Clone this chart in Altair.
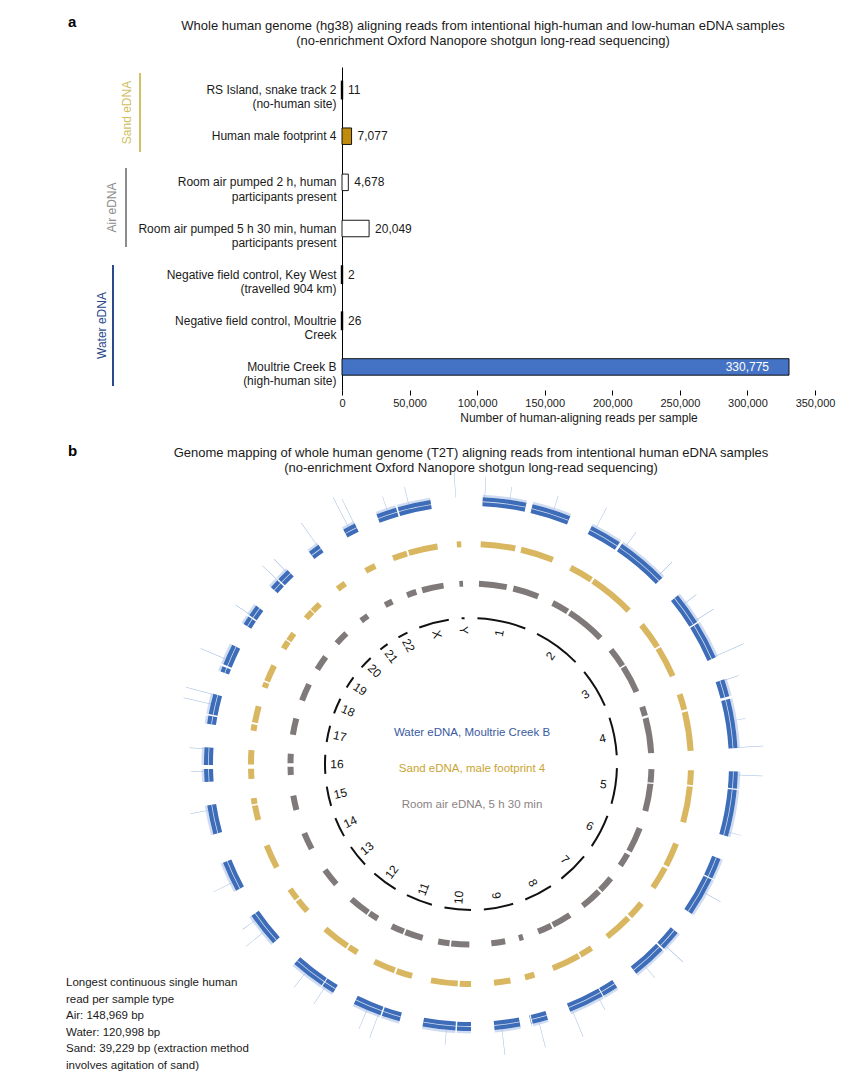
import math
import altair as alt
import pandas as pd

FONT = "Liberation Sans"
INK = "#1a1a1a"

# ---------------- Panel a data ----------------
SAMPLES = [
    "RS Island, snake track 2|(no-human site)",
    "Human male footprint 4",
    "Room air pumped 2 h, human|participants present",
    "Room air pumped 5 h 30 min, human|participants present",
    "Negative field control, Key West|(travelled 904 km)",
    "Negative field control, Moultrie|Creek",
    "Moultrie Creek B|(high-human site)",
]
READS = [11, 7077, 4678, 20049, 2, 26, 330775]
BAR_COLORS = ["#000000", "#bf8c0c", "#ffffff", "#ffffff", "#000000", "#000000", "#4472c4"]
X_TICKS = [0, 50000, 100000, 150000, 200000, 250000, 300000, 350000]
X_MAX = 350000
GROUP_NAMES = ["Sand eDNA", "Air eDNA", "Water eDNA"]
GROUP_COLORS = ["#d2c062", "#8c8c8c", "#2b4a8b"]
TITLE_A = ("Whole human genome (hg38) aligning reads from intentional high-human and low-human eDNA samples\n"
           "(no-enrichment Oxford Nanopore shotgun long-read sequencing)")
X_TITLE = "Number of human-aligning reads per sample"

# ---------------- Panel b data ----------------
TITLE_B = ("Genome mapping of whole human genome (T2T) aligning reads from intentional human eDNA samples\n"
           "(no-enrichment Oxford Nanopore shotgun long-read sequencing)")
CHROMS = [str(i) for i in range(1, 23)] + ["X", "Y"]
CHROM_MB = [248.4, 242.7, 201.1, 193.6, 182.0, 172.1, 160.6, 146.3, 150.6, 134.8, 135.1, 133.3,
            113.6, 101.2, 99.8, 96.3, 84.3, 80.5, 61.7, 66.2, 45.1, 51.3, 154.3, 15.0]
GAP_MB = 65

WATER_SEGS = {
    "1": [(0, 0.49), (0.56, 1)], "2": [(0, 0.37), (0.40, 1)], "3": [(0, 0.45), (0.47, 1)],
    "4": [(0, 0.25), (0.29, 1)], "5": [(0, 0.26), (0.28, 1)], "6": [(0, 0.34), (0.36, 1)],
    "7": [(0, 0.36), (0.39, 1)], "8": [(0, 0.30), (0.32, 1)], "9": [(0, 0.29), (0.31, 0.32), (0.52, 1)],
    "10": [(0, 0.29), (0.32, 1)], "11": [(0, 0.38), (0.41, 1)], "12": [(0, 0.26), (0.28, 1)],
    "13": [(0.15, 1)], "14": [(0.16, 1)], "15": [(0.18, 1)], "16": [(0, 0.37), (0.49, 1)],
    "17": [(0, 0.27), (0.32, 1)], "18": [(0, 0.19), (0.26, 1)], "19": [(0, 0.40), (0.47, 1)],
    "20": [(0, 0.40), (0.46, 1)], "21": [(0.28, 1)], "22": [(0.30, 1)], "X": [(0, 0.37), (0.40, 1)],
}
SAND_SEGS = {
    "1": [(0, 0.47), (0.55, 1)], "2": [(0, 0.33), (0.36, 1)], "3": [(0, 0.45), (0.48, 1)],
    "4": [(0, 0.28), (0.32, 1)], "5": [(0, 0.27), (0.30, 0.97)], "6": [(0.03, 0.50), (0.55, 1)],
    "7": [(0, 0.36), (0.41, 1)], "8": [(0, 0.30), (0.34, 1)], "9": [(0, 0.22), (0.55, 0.92)],
    "10": [(0, 0.28), (0.33, 1)], "11": [(0, 0.40), (0.45, 1)], "12": [(0, 0.25), (0.30, 1)],
    "13": [(0.18, 0.60), (0.65, 1)], "14": [(0.20, 1)], "15": [(0.25, 0.75), (0.80, 1)],
    "16": [(0, 0.35), (0.50, 1)], "17": [(0, 0.25), (0.33, 1)], "18": [(0, 0.22), (0.28, 1)],
    "19": [(0, 0.45), (0.52, 1)], "20": [(0, 0.45), (0.50, 1)], "21": [(0.30, 1)], "22": [(0.30, 1)],
    "X": [(0, 0.32), (0.36, 1)], "Y": [(0, 1)],
}
AIR_SEGS = {
    "1": [(0, 0.46), (0.57, 1)], "2": [(0, 0.29), (0.33, 1)], "3": [(0, 0.40), (0.43, 1)],
    "4": [(0, 0.20), (0.25, 1)], "5": [(0, 0.30), (0.33, 0.95)], "6": [(0, 0.60), (0.68, 1)],
    "7": [(0, 0.40), (0.45, 1)], "8": [(0, 0.55), (0.60, 1)], "9": [(0, 0.12), (0.50, 0.88)],
    "10": [(0.05, 0.60), (0.65, 1)], "11": [(0, 0.55), (0.60, 1)], "12": [(0, 0.30), (0.35, 1)],
    "13": [(0.20, 0.85)], "14": [(0.20, 0.90)], "15": [(0.25, 0.85)], "16": [(0.05, 0.40), (0.55, 0.95)],
    "17": [(0.10, 0.90)], "18": [(0.05, 0.95)], "19": [(0, 1)], "20": [(0.10, 0.95)],
    "21": [(0.25, 1)], "22": [(0.35, 1)], "X": [(0, 0.26), (0.42, 1)], "Y": [(0, 1)],
}
SPIKE_CHROM = ["Y", "1", "1", "1", "2", "2", "2", "3", "3", "3", "4", "4", "4", "5", "5", "6", "7", "7",
               "8", "8", "9", "9", "10", "11", "11", "12", "12", "13", "13", "14", "15", "16", "16",
               "17", "17", "18", "19", "20", "20", "21", "22", "22", "X", "X"]
SPIKE_FRAC = [0.3, 0.02, 0.3, 0.8, 0.05, 0.45, 0.95, 0.14, 0.42, 0.98, 0.01, 0.6, 0.99, 0.05, 0.93, 0.6,
              0.3, 0.8, 0.95, 0.4, 0.17, 0.86, 0.5, 0.45, 0.7, 0.2, 0.7, 0.5, 0.85, 0.4, 0.85, 0.3, 0.95,
              0.65, 0.97, 0.45, 0.5, 0.4, 0.9, 0.9, 0.6, 0.95, 0.2, 0.6]
SPIKE_LEN = [22, 17, 10, 12, 20, 15, 15, 12, 18, 28, 12, 8, 23, 22, 10, 15, 20, 12, 25, 10, 23, 23, 12,
             22, 18, 17, 15, 20, 12, 18, 15, 10, 12, 25, 25, 24, 14, 18, 14, 25, 30, 25, 12, 15]
CENTER_LABELS = ["Water eDNA, Moultrie Creek B", "Sand eDNA, male footprint 4", "Room air eDNA, 5 h 30 min"]
CENTER_COLORS = ["#3a5a9f", "#c9a532", "#8b8383"]
NOTE = ("Longest continuous single human\nread per sample type\nAir: 148,969 bp\nWater: 120,998 bp\n"
        "Sand: 39,229 bp (extraction method\ninvolves agitation of sand)")

# ---------------- layout (pixels, relative to panel-a plot origin) ----------------
W, H = 473, 323
CX, CY = 129, 697

# ---------------- Panel a ----------------
bar_df = pd.DataFrame({"sample": SAMPLES, "reads": READS})
y_axis = alt.Axis(title=None, labelExpr="split(datum.label, '|')", labelFontSize=12, labelFont=FONT,
                  labelColor=INK, labelLineHeight=14.3, ticks=False, domainColor="#000000",
                  domainWidth=1, labelPadding=6, labelLimit=400, grid=False)
x_axis = alt.Axis(values=X_TICKS, labelExpr="format(datum.value, ',')", title=X_TITLE, titleFontSize=12,
                  titleFontWeight="normal", titleFont=FONT, titleColor=INK, labelFontSize=11,
                  labelFont=FONT, labelColor=INK, tickSize=5, tickColor="#000000", domain=False,
                  grid=False, labelPadding=2, titlePadding=4, labelFlush=False)
x_enc = alt.X("reads:Q", scale=alt.Scale(domain=[0, X_MAX], nice=False), axis=x_axis)
y_enc = alt.Y("sample:N", sort=SAMPLES, scale=alt.Scale(paddingInner=0, paddingOuter=0), axis=y_axis)

bars = alt.Chart(bar_df).mark_bar(size=16.5, stroke="#000000").encode(
    x=x_enc, y=y_enc,
    fill=alt.Fill("sample:N", scale=alt.Scale(domain=SAMPLES, range=BAR_COLORS), legend=None),
    strokeWidth=alt.condition("datum.reads < 100", alt.value(2.4), alt.value(0.9)),
)
val_out = alt.Chart(bar_df).transform_filter("datum.reads < 100000").mark_text(
    align="left", baseline="middle", dx=6, fontSize=12, font=FONT, color=INK
).encode(x=x_enc, y=y_enc, text=alt.Text("reads:Q", format=","))
val_in = alt.Chart(bar_df).transform_filter("datum.reads >= 100000").mark_text(
    align="right", baseline="middle", dx=-20, fontSize=12, font=FONT, color="#ffffff"
).encode(x=x_enc, y=y_enc, text=alt.Text("reads:Q", format=","))


def text_layer(text, x, y, size, color, weight="normal", align="center", baseline="top",
               angle=None, line_height=None):
    mk = dict(fontSize=size, font=FONT, color=color, fontWeight=weight, align=align,
              baseline=baseline, lineBreak="\n")
    if angle is not None:
        mk["angle"] = angle
    if line_height is not None:
        mk["lineHeight"] = line_height
    return alt.Chart(pd.DataFrame({"t": [text]})).mark_text(**mk).encode(
        text="t:N", x=alt.value(x), y=alt.value(y))


GROUP_LAYOUT = [(-202, 6, 85, -215), (-216, 101, 180, -230), (-229, 198, 319, -240)]
group_layers = []
for name, col, (lx, y0, y1, tx) in zip(GROUP_NAMES, GROUP_COLORS, GROUP_LAYOUT):
    group_layers.append(
        alt.Chart(pd.DataFrame({"g": [name]})).mark_rule(color=col, strokeWidth=2).encode(
            x=alt.value(lx), y=alt.value(y0), y2=alt.value(y1)))
    group_layers.append(text_layer(name, tx, (y0 + y1) / 2, 12, col, baseline="middle", angle=270))

# ---------------- Panel b (circos) ----------------
LEN = dict(zip(CHROMS, CHROM_MB))
starts = {}
pos = GAP_MB / 2
for c, L in zip(CHROMS, CHROM_MB):
    starts[c] = pos
    pos += L + GAP_MB
TOTAL = pos - GAP_MB / 2
theta_scale = alt.Scale(domain=[0, TOTAL], range=[0, 2 * math.pi])


def seg_frame(segs):
    rows = []
    for c, lst in segs.items():
        for f0, f1 in lst:
            rows.append({"chrom": c, "start": starts[c] + f0 * LEN[c], "end": starts[c] + f1 * LEN[c]})
    return pd.DataFrame(rows)


def ring(df, r_out, r_in, color, opacity=1.0):
    return alt.Chart(df).mark_arc(radius=r_out, radius2=r_in, color=color, opacity=opacity).encode(
        theta=alt.Theta("start:Q", scale=theta_scale, stack=None),
        theta2="end:Q",
        x=alt.value(CX), y=alt.value(CY))


chrom_df = pd.DataFrame({"chrom": CHROMS,
                         "start": [starts[c] for c in CHROMS],
                         "end": [starts[c] + LEN[c] for c in CHROMS]})
lab_df = chrom_df.copy()
lab_df["mid"] = (lab_df["start"] + lab_df["end"]) / 2
deg = lab_df["mid"] / TOTAL * 360
lab_df["ang"] = [((d - 90) % 360) if d <= 180 else ((d + 90) % 360) for d in deg]

water_df = seg_frame(WATER_SEGS)
sand_df = seg_frame(SAND_SEGS)
air_df = seg_frame(AIR_SEGS)

spike_df = pd.DataFrame({"chrom": SPIKE_CHROM, "frac": SPIKE_FRAC, "len": SPIKE_LEN})
spike_df["start"] = [starts[c] + f * LEN[c] for c, f in zip(SPIKE_CHROM, SPIKE_FRAC)]
spike_df["end"] = spike_df["start"] + 1.2

spikes = alt.Chart(spike_df).transform_calculate(tip="270 + datum.len").mark_arc(
    radius2=267, color="#9bb7e2").encode(
    theta=alt.Theta("start:Q", scale=theta_scale, stack=None), theta2="end:Q",
    radius=alt.Radius("tip:Q", scale=None), x=alt.value(CX), y=alt.value(CY))

chrom_labels = alt.Chart(lab_df).mark_text(radius=134, fontSize=12, font=FONT, color="#111111",
                                           baseline="middle", align="center").encode(
    theta=alt.Theta("mid:Q", scale=theta_scale, stack=None),
    text="chrom:N",
    angle=alt.Angle("ang:Q", scale=None),
    x=alt.value(CX), y=alt.value(CY))

circos = [
    ring(chrom_df, 147, 145, "#111111"),
    ring(air_df, 183.5, 177.5, "#807979"),
    ring(sand_df, 223, 217, "#d9b660"),
    spikes,
    ring(water_df, 269.5, 267, "#a7bfe6", 0.55),
    ring(water_df, 267, 258, "#3d6cb9"),
    ring(water_df, 262.9, 262.1, "#ffffff", 0.75),
    chrom_labels,
]

center_layers = [text_layer(t, 130, y, 11.5, c, baseline="middle")
                 for t, c, y in zip(CENTER_LABELS, CENTER_COLORS, [666, 702, 738])]

annot = [
    text_layer("a", -274, -52, 15, "#000000", weight="bold", align="left"),
    text_layer(TITLE_A, 141, -47, 13, INK, line_height=15),
    text_layer("b", -274, 377, 15, "#000000", weight="bold", align="left"),
    text_layer(TITLE_B, 129, 380, 13, INK, line_height=15),
    text_layer(NOTE, -276, 910, 11.5, INK, align="left", line_height=16.5),
]

chart = alt.layer(bars, val_out, val_in, *group_layers, *circos, *center_layers, *annot).properties(
    width=W, height=H,
    padding={"left": 334, "top": 59, "right": 30, "bottom": 692},
    autosize=alt.AutoSizeParams(type="none"),
).configure_view(strokeWidth=0)

chart.save("out.html", embed_options={"renderer": "svg", "actions": False})
